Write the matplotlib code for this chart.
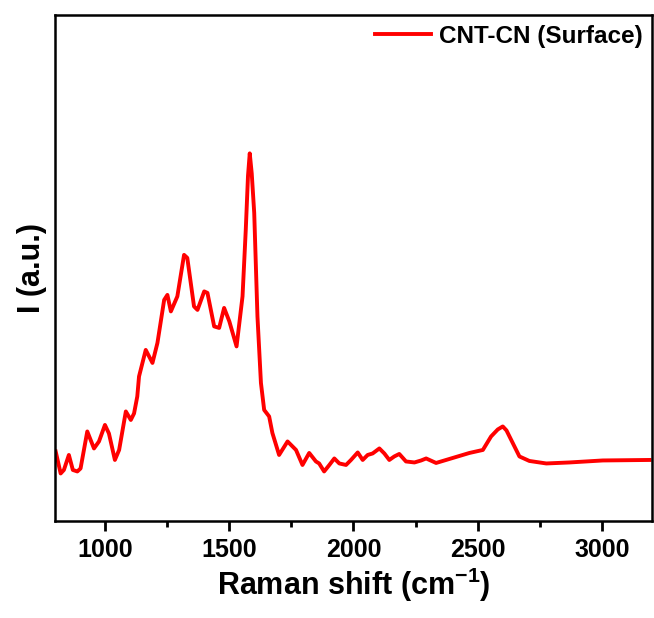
import matplotlib
matplotlib.use("Agg")
import matplotlib.pyplot as plt
from matplotlib.ticker import MultipleLocator

# Raman spectrum of CNT-CN, surface measurement
raman_shift = [
    803, 823, 836, 856, 872, 890, 903, 930, 957, 977, 1001, 1017, 1041, 1058,
    1085, 1105, 1118, 1131, 1138, 1165, 1192, 1212, 1239, 1252, 1266, 1292,
    1319, 1332, 1359, 1373, 1400, 1413, 1440, 1460, 1480, 1501, 1530, 1554,
    1567, 1576, 1583, 1591, 1601, 1614, 1628, 1641, 1661, 1674, 1701, 1735,
    1769, 1795, 1822, 1849, 1862, 1882, 1903, 1923, 1943, 1970, 1990, 2017,
    2037, 2057, 2077, 2104, 2124, 2144, 2164, 2184, 2211, 2245, 2272, 2292,
    2332, 2399, 2466, 2520, 2553, 2580, 2600, 2615, 2634, 2667, 2707, 2775,
    2868, 3002, 3190,
]
intensity = [
    139, 95, 102, 132, 102, 99, 105, 179, 145, 159, 192, 175, 122, 142,
    219, 202, 215, 249, 289, 342, 316, 356, 442, 452, 419, 449,
    532, 526, 429, 422, 459, 456, 389, 386, 426, 399, 349, 449,
    582, 690, 735, 695, 616, 409, 276, 222, 209, 176, 132, 159,
    142, 112, 136, 119, 115, 99, 112, 125, 115, 112, 122, 137,
    122, 132, 135, 145, 135, 122, 129, 134, 119, 117, 121, 125,
    116, 126, 136, 142, 169, 183, 189, 181, 162, 129, 120, 115,
    117, 121, 122,
]
series_label = "CNT-CN (Surface)"

plt.rcParams["font.family"] = ["Liberation Sans", "DejaVu Sans"]
plt.rcParams["font.weight"] = "bold"
plt.rcParams["mathtext.fontset"] = "custom"
plt.rcParams["mathtext.rm"] = "Liberation Sans:bold"
plt.rcParams["mathtext.default"] = "rm"

fig = plt.figure(figsize=(6.54, 6.18), dpi=100)
ax = fig.add_axes([0.084, 0.157, 0.913, 0.819])

ax.plot(raman_shift, intensity, color="#ff0000", lw=2.8, label=series_label)

ax.set_xlim(800, 3200)
ax.set_ylim(0, 1012)
ax.xaxis.set_major_locator(MultipleLocator(500))
ax.xaxis.set_minor_locator(MultipleLocator(250))
ax.set_yticks([])

for sp in ax.spines.values():
    sp.set_linewidth(1.8)

ax.tick_params(axis="x", which="major", direction="out", length=7, width=2,
               labelsize=18, pad=5)
ax.tick_params(axis="x", which="minor", direction="out", length=4, width=2)
for lbl in ax.get_xticklabels():
    lbl.set_fontweight("bold")

ax.set_xlabel("Raman shift (cm$^{-1}$)", fontsize=22, fontweight="bold", labelpad=3)
ax.set_ylabel("I (a.u.)", fontsize=22, fontweight="bold", labelpad=6)

leg = ax.legend(loc="upper right", frameon=False, fontsize=17.5,
                handlelength=2.3, borderaxespad=0.1, handletextpad=0.3,
                borderpad=0.3)
for t in leg.get_texts():
    t.set_fontweight("bold")

fig.savefig("out.png", dpi=100)
